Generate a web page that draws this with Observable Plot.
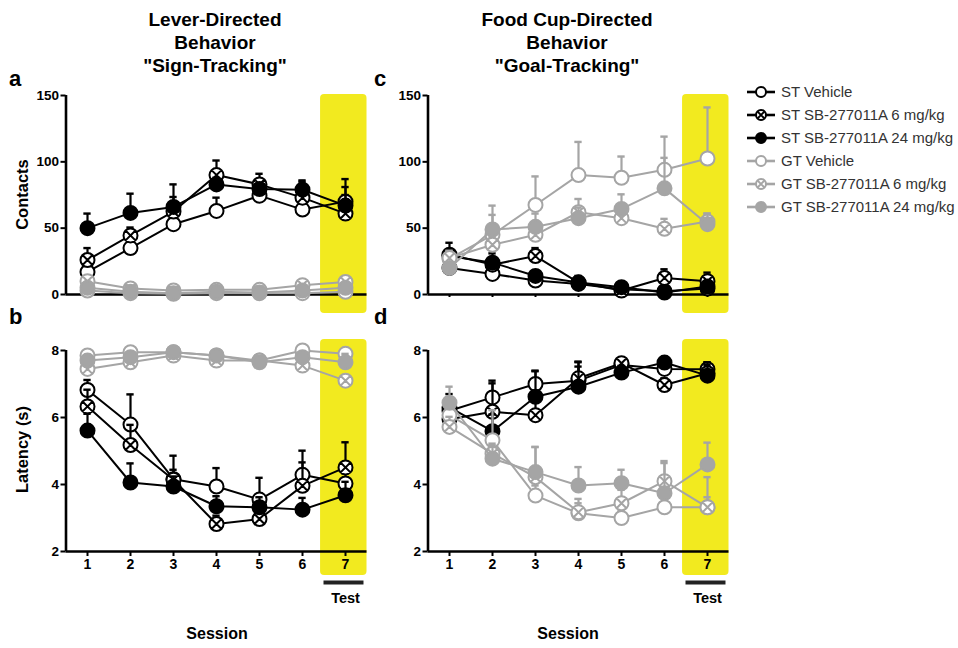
<!DOCTYPE html>
<html>
<head>
<meta charset="utf-8">
<script src="https://cdn.jsdelivr.net/npm/d3@7"></script>
<script src="https://cdn.jsdelivr.net/npm/@observablehq/plot@0.6"></script>
<style>
  html, body { margin: 0; padding: 0; background: #fff; }
  #root { position: relative; width: 958px; height: 648px; overflow: hidden; font-family: "Liberation Sans", Arial, sans-serif; color: #000; }
  .abs { position: absolute; }
  .title { font-family: "Liberation Sans Narrow", "Arial Narrow", "Liberation Sans", Arial, sans-serif; font-stretch: condensed; font-weight: bold; font-size: 19px; line-height: 23px; text-align: center; width: 300px; }
  .letter { font-weight: bold; font-size: 22px; }
  .ylab { font-weight: bold; font-size: 16.5px; transform: rotate(-90deg); transform-origin: center; width: 160px; text-align: center; }
  .xlab { font-weight: bold; font-size: 16px; width: 200px; text-align: center; }
  .leg { font-size: 15px; color: #333; display: flex; align-items: center; height: 23px; }
</style>
</head>
<body>
<div id="root"></div>
<script>
// ---------- data ----------
const sessions = [1, 2, 3, 4, 5, 6, 7];
const testSession = 7;
const seriesNames = ["ST Vehicle", "ST SB-277011A 6 mg/kg", "ST SB-277011A 24 mg/kg",
                     "GT Vehicle", "GT SB-277011A 6 mg/kg", "GT SB-277011A 24 mg/kg"];
const seriesColors = ["#000000", "#000000", "#000000", "#a5a5a5", "#a5a5a5", "#a5a5a5"];
const seriesMarkers = ["open", "cross", "filled", "open", "cross", "filled"];

// Panel a: lever contacts (sign-tracking)
const leverContactsMean = [
  [17, 35, 53, 63, 74.5, 64, 70],
  [26, 44.5, 62.5, 90, 83, 73, 61],
  [50, 61.5, 66, 83, 79.5, 79, 67],
  [3, 1, 0.5, 1, 1, 1, 2],
  [10, 4.5, 3, 3.5, 3.5, 7, 9.5],
  [5, 2, 1, 2, 1.5, 3, 5]
];
const leverContactsSem = [
  [3, 3, 4, 10, 3, 3, 5],
  [9, 6, 11, 11, 8, 13, 20],
  [11, 14.5, 17, 5, 4, 6, 20],
  [1, 0.5, 0.5, 0.5, 0.5, 0.5, 1],
  [2, 1, 1, 1, 1, 2, 2],
  [1, 0.5, 0.5, 0.5, 0.5, 1, 1]
];
// Panel b: lever latency (sign-tracking)
const leverLatencyMean = [
  [6.82, 5.79, 4.16, 3.94, 3.55, 4.29, 4.03],
  [6.33, 5.18, 4.14, 2.82, 2.97, 3.96, 4.51],
  [5.61, 4.06, 3.94, 3.35, 3.32, 3.25, 3.68],
  [7.85, 7.95, 7.95, 7.85, 7.7, 8.0, 7.9],
  [7.45, 7.65, 7.85, 7.7, 7.7, 7.55, 7.1],
  [7.7, 7.8, 7.95, 7.85, 7.65, 7.8, 7.65]
];
const leverLatencySem = [
  [0.3, 0.9, 0.7, 0.55, 0.65, 0.72, 0.3],
  [0.5, 0.6, 0.3, 0.25, 0.2, 0.7, 0.75],
  [0.5, 0.57, 0.3, 0.3, 0.3, 0.35, 0.4],
  [0.1, 0.05, 0.05, 0.1, 0.1, 0.05, 0.1],
  [0.1, 0.1, 0.1, 0.1, 0.1, 0.1, 0.15],
  [0.1, 0.1, 0.05, 0.1, 0.1, 0.1, 0.25]
];
// Panel c: food cup contacts (goal-tracking)
const cupContactsMean = [
  [20, 15.5, 10.5, 8, 4, 2.5, 4.5],
  [30, 22.5, 29, 9, 3, 12.5, 10],
  [29, 24, 14, 9, 5.5, 1.5, 6],
  [27, 45, 67.5, 90, 88, 94, 102.5],
  [27.5, 37.5, 45, 62, 57.5, 49.5, 55],
  [20, 49, 51, 57.5, 64.5, 80, 53]
];
const cupContactsSem = [
  [3, 2, 2, 2, 1, 1, 2],
  [9, 8.5, 6, 5, 2, 6.5, 6.5],
  [3, 3, 3, 2, 1, 1, 2],
  [6, 15, 21.5, 25, 16, 25, 38.5],
  [5, 6, 5, 10, 5, 7.5, 6],
  [4, 18, 10, 8, 11, 23, 8]
];
// Panel d: food cup latency (goal-tracking)
const cupLatencyMean = [
  [6.2, 6.6, 7.0, 7.1, 7.57, 7.45, 7.44],
  [5.95, 6.17, 6.07, 7.17, 7.62, 6.97, 7.32],
  [6.3, 5.59, 6.62, 6.92, 7.34, 7.64, 7.25],
  [6.07, 5.32, 3.67, 3.14, 3.0, 3.32, 3.32],
  [5.72, 4.92, 4.22, 3.17, 3.44, 4.1, 3.32],
  [6.44, 4.77, 4.37, 3.97, 4.04, 3.74, 4.6]
];
const cupLatencySem = [
  [0.3, 0.5, 0.38, 0.55, 0.1, 0.15, 0.2],
  [0.3, 0.85, 0.6, 0.5, 0.1, 0.2, 0.25],
  [0.4, 0.5, 0.78, 0.6, 0.2, 0.1, 0.4],
  [0.2, 0.9, 0.3, 0.3, 0.2, 0.3, 0.3],
  [0.3, 0.3, 0.9, 0.4, 0.4, 0.6, 0.9],
  [0.48, 0.4, 0.75, 0.55, 0.4, 0.9, 0.65]
];
const contactsTicks = [0, 50, 100, 150];
const latencyTicks = [2, 4, 6, 8];

// ---------- helpers ----------
const crossCircle = {
  draw(ctx, size) {
    const r = Math.sqrt(size / Math.PI);
    ctx.moveTo(r, 0);
    ctx.arc(0, 0, r, 0, 2 * Math.PI);
    const a = r * Math.SQRT1_2;
    ctx.moveTo(-a, -a); ctx.lineTo(a, a);
    ctx.moveTo(-a, a); ctx.lineTo(a, -a);
  }
};

function seriesRows(means, sems, k) {
  return sessions.map((s, i) => ({session: s, mean: means[k][i], top: means[k][i] + sems[k][i]}));
}

function panel(means, sems, o) {
  const marks = [];
  // test-session highlight
  marks.push(Plot.rect([{x1: testSession - 0.58, x2: testSession + 0.5, y1: o.yDomain[0], y2: o.yDomain[1]}],
    {x1: "x1", x2: "x2", y1: "y1", y2: "y2", fill: "#f2ea1f", rx: 4, insetTop: o.boxTop, insetBottom: o.boxBottom}));
  // axes
  marks.push(Plot.axisY({ticks: o.yTicks, tickSize: 5, tickPadding: 2, strokeWidth: 2, label: null,
    tickFormat: d => String(d), fontSize: 13.5, fontWeight: "bold"}));
  marks.push(Plot.axisX({ticks: sessions, tickSize: o.showX ? 5 : 3, tickPadding: 3, strokeWidth: 2, label: null,
    tickFormat: o.showX ? (d => String(d)) : (() => ""), fontSize: 14, fontWeight: "bold"}));
  marks.push(Plot.ruleY([o.yDomain[0]], {strokeWidth: 2.6}));
  marks.push(Plot.ruleX([0.5], {y1: o.yDomain[0], y2: o.yDomain[1], strokeWidth: 2.6}));
  // series
  for (let k = 0; k < seriesNames.length; k++) {
    const rows = seriesRows(means, sems, k);
    const c = seriesColors[k];
    marks.push(Plot.line(rows, {x: "session", y: "mean", stroke: c, strokeWidth: 2}));
    marks.push(Plot.ruleX(rows, {x: "session", y1: "mean", y2: "top", stroke: c, strokeWidth: 2.2}));
    marks.push(Plot.ruleY(rows, {y: "top", x1: d => d.session - 0.085, x2: d => d.session + 0.085, stroke: c, strokeWidth: 2.4}));
    const m = seriesMarkers[k];
    marks.push(Plot.dot(rows, {x: "session", y: "mean", r: 7, stroke: c, strokeWidth: 2,
      fill: m === "filled" ? c : "#fff", symbol: m === "cross" ? crossCircle : "circle"}));
  }
  if (o.showX) {
    marks.push(Plot.ruleY([o.yDomain[0]], {x1: testSession - 0.5, x2: testSession + 0.43, dy: 31, strokeWidth: 4, stroke: "#222"}));
    marks.push(Plot.text(["Test"], {x: testSession, y: o.yDomain[0], dy: 47, text: d => d, fontSize: 14.5, fontWeight: "bold"}));
  }
  return Plot.plot({
    width: o.width, height: o.height,
    marginLeft: 65.5, marginRight: 13.5, marginTop: o.marginTop, marginBottom: o.marginBottom,
    x: {domain: [0.5, 7.5]},
    y: {domain: o.yDomain},
    style: {fontFamily: "'Liberation Sans', Arial, sans-serif", fontSize: "13.5px", fontWeight: "bold", background: "transparent", overflow: "visible", color: "#000"},
    marks
  });
}

// ---------- layout ----------
const root = document.getElementById("root");
function place(el, left, top) {
  el.style.position = "absolute"; el.style.left = left + "px"; el.style.top = top + "px";
  root.appendChild(el);
}
function addText(cls, html, left, top, extra) {
  const d = document.createElement("div");
  d.className = "abs " + cls;
  d.innerHTML = html;
  d.style.left = left + "px"; d.style.top = top + "px";
  if (extra) Object.assign(d.style, extra);
  root.appendChild(d);
}

const topOpt = {width: 380, height: 240, marginTop: 15, marginBottom: 26, yDomain: [0, 150], yTicks: contactsTicks, showX: false, boxTop: -1, boxBottom: -19};
const botOpt = {width: 380, height: 318, marginTop: 20, marginBottom: 97, yDomain: [2, 8], yTicks: latencyTicks, showX: true, boxTop: -11, boxBottom: -24};

place(panel(leverContactsMean, leverContactsSem, topOpt), 0, 80);
place(panel(leverLatencyMean, leverLatencySem, botOpt), 0, 330);
place(panel(cupContactsMean, cupContactsSem, topOpt), 362, 80);
place(panel(cupLatencyMean, cupLatencySem, botOpt), 362, 330);

// titles
addText("title", "Lever-Directed<br>Behavior<br>\"Sign-Tracking\"", 65, 8);
addText("title", "Food Cup-Directed<br>Behavior<br>\"Goal-Tracking\"", 417, 8);
// panel letters
addText("letter", "a", 9, 66);
addText("letter", "b", 9, 304);
addText("letter", "c", 374, 66);
addText("letter", "d", 374, 304);
// axis titles
addText("ylab", "Contacts", 22 - 80, 195 - 10);
addText("ylab", "Latency (s)", 22 - 80, 450 - 10);
addText("xlab", "Session", 217 - 100, 625);
addText("xlab", "Session", 568 - 100, 625);

// legend
const legend = document.createElement("div");
legend.className = "abs";
legend.style.left = "745px"; legend.style.top = "80px";
seriesNames.forEach((name, k) => {
  const row = document.createElement("div");
  row.className = "leg";
  const c = seriesColors[k], m = seriesMarkers[k];
  const cross = m === "cross" ? `<path d="M12.5,4.5L19.5,11.5M12.5,11.5L19.5,4.5" stroke="${c}" stroke-width="1.8"/>` : "";
  row.innerHTML = `<svg width="34" height="16" style="margin-right:2px"><line x1="2" x2="30" y1="8" y2="8" stroke="${c}" stroke-width="2.6"/>` +
    `<circle cx="16" cy="8" r="5" fill="${m === "filled" ? c : "#fff"}" stroke="${c}" stroke-width="2"/>${cross}</svg><span>${name}</span>`;
  legend.appendChild(row);
});
root.appendChild(legend);
</script>
</body>
</html>
